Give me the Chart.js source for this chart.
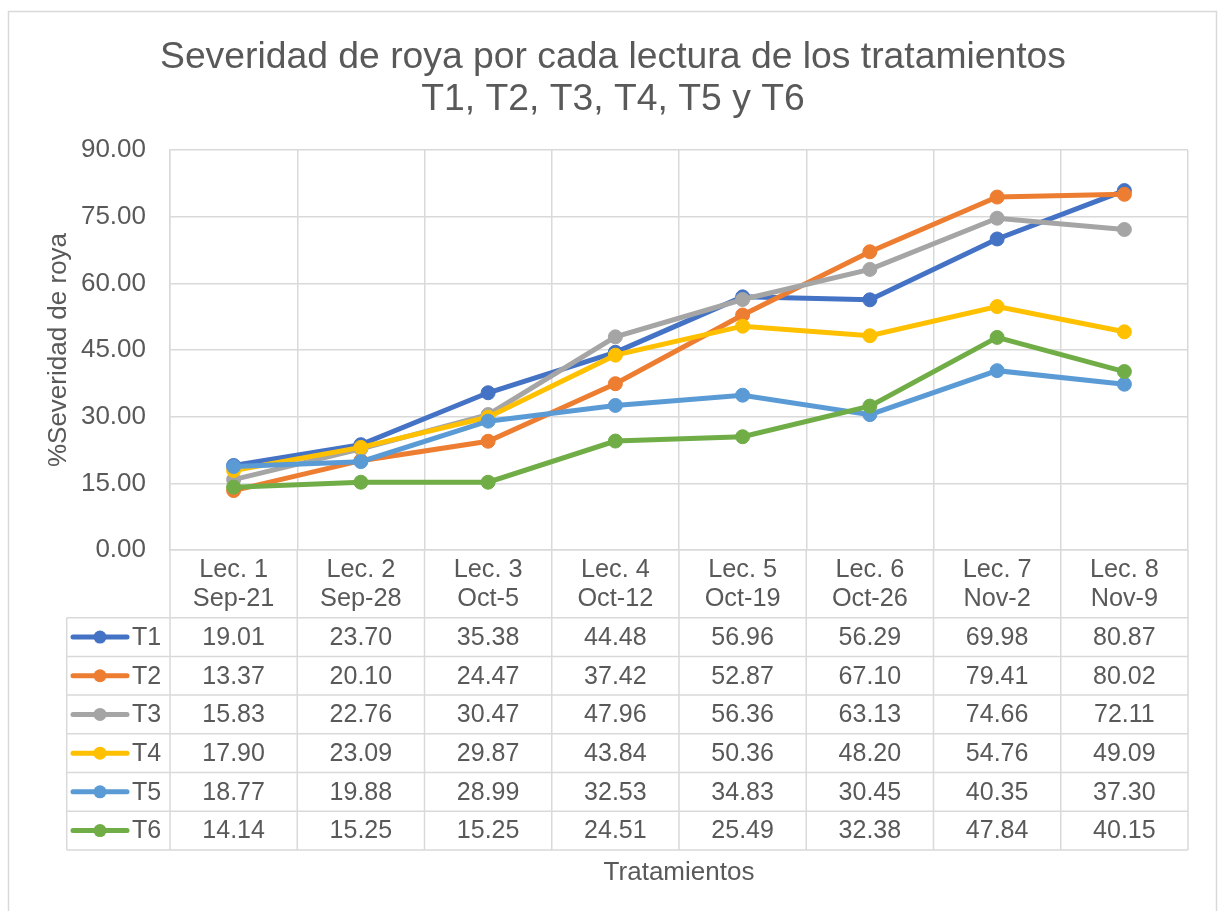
<!DOCTYPE html>
<html>
<head>
<meta charset="utf-8">
<script src="https://cdn.jsdelivr.net/npm/chart.js@4/dist/chart.umd.min.js"></script>
<style>
html,body{margin:0;padding:0;background:#ffffff;}
canvas{display:block;}
</style>
</head>
<body>
<canvas id="c" width="1220" height="911"></canvas>
<script>
// ---- data ----
const categories = [
  ['Lec. 1','Sep-21'], ['Lec. 2','Sep-28'], ['Lec. 3','Oct-5'], ['Lec. 4','Oct-12'],
  ['Lec. 5','Oct-19'], ['Lec. 6','Oct-26'], ['Lec. 7','Nov-2'], ['Lec. 8','Nov-9']
];
const seriesNames = ['T1','T2','T3','T4','T5','T6'];
const T1 = [19.01, 23.70, 35.38, 44.48, 56.96, 56.29, 69.98, 80.87];
const T2 = [13.37, 20.10, 24.47, 37.42, 52.87, 67.10, 79.41, 80.02];
const T3 = [15.83, 22.76, 30.47, 47.96, 56.36, 63.13, 74.66, 72.11];
const T4 = [17.90, 23.09, 29.87, 43.84, 50.36, 48.20, 54.76, 49.09];
const T5 = [18.77, 19.88, 28.99, 32.53, 34.83, 30.45, 40.35, 37.30];
const T6 = [14.14, 15.25, 15.25, 24.51, 25.49, 32.38, 47.84, 40.15];
const seriesValues = [T1, T2, T3, T4, T5, T6];
const seriesColors = ['#4472C4','#ED7D31','#A5A5A5','#FFC000','#5B9BD5','#70AD47'];
const yMin = 0, yMax = 90, yStep = 15;
const titleLines = ['Severidad de roya por cada lectura de los tratamientos', 'T1, T2, T3, T4, T5 y T6'];
const yTitle = '%Severidad de roya';
const xTitle = 'Tratamientos';

// ---- style ----
const FONT = "'Liberation Sans', Arial, sans-serif";
const TEXT = '#595959';
const GRID = '#d9d9d9';

const tablePlugin = {
  id: 'dataTable',
  beforeDraw(chart) {
    const ctx = chart.ctx;
    ctx.save();
    ctx.fillStyle = '#ffffff';
    ctx.fillRect(0, 0, chart.width, chart.height);
    ctx.strokeStyle = GRID;
    ctx.lineWidth = 1.5;
    ctx.strokeRect(8.5, 11.5, 1208, 910);
    ctx.restore();
  },
  afterDraw(chart) {
    const ctx = chart.ctx;
    const xs = chart.scales.x;
    const area = chart.chartArea;
    const tableTop = 617.7, rowH = 38.7, tableLeft = 66.7;
    const rows = seriesNames.length;
    const tableBottom = tableTop + rowH * rows;
    const n = categories.length;
    const bounds = [];
    for (let i = 0; i <= n; i++) {
      if (i === 0) bounds.push(area.left);
      else if (i === n) bounds.push(area.right);
      else bounds.push((xs.getPixelForTick(i - 1) + xs.getPixelForTick(i)) / 2);
    }
    ctx.save();
    ctx.strokeStyle = GRID;
    ctx.lineWidth = 1.5;
    ctx.beginPath();
    bounds.forEach(b => { ctx.moveTo(b, area.bottom); ctx.lineTo(b, tableBottom); });
    ctx.moveTo(tableLeft, tableTop); ctx.lineTo(tableLeft, tableBottom);
    for (let r = 0; r <= rows; r++) {
      const y = tableTop + r * rowH;
      ctx.moveTo(tableLeft, y); ctx.lineTo(area.right, y);
    }
    ctx.stroke();

    ctx.font = '25px ' + FONT;
    ctx.fillStyle = TEXT;
    ctx.textBaseline = 'middle';
    for (let r = 0; r < rows; r++) {
      const cy = tableTop + r * rowH + rowH / 2;
      // legend key
      ctx.strokeStyle = seriesColors[r];
      ctx.lineWidth = 5;
      ctx.lineCap = 'round';
      ctx.beginPath(); ctx.moveTo(73, cy); ctx.lineTo(127, cy); ctx.stroke();
      ctx.fillStyle = seriesColors[r];
      ctx.beginPath(); ctx.arc(100, cy, 6.5, 0, Math.PI * 2); ctx.fill();
      ctx.fillStyle = TEXT;
      ctx.textAlign = 'left';
      ctx.fillText(seriesNames[r], 132, cy + 1);
      ctx.textAlign = 'center';
      for (let c = 0; c < n; c++) {
        ctx.fillText(seriesValues[r][c].toFixed(2), xs.getPixelForTick(c), cy + 1);
      }
    }
    ctx.restore();
  }
};

const datasets = seriesNames.map((name, i) => ({
  label: name,
  data: seriesValues[i],
  borderColor: seriesColors[i],
  backgroundColor: seriesColors[i],
  borderWidth: 5,
  pointRadius: 7,
  pointBorderWidth: 1,
  pointBackgroundColor: seriesColors[i],
  pointBorderColor: seriesColors[i],
  tension: 0,
  fill: false,
  yAxisID: 'y',
  order: seriesNames.length - i
}));

new Chart(document.getElementById('c'), {
  type: 'line',
  data: { labels: categories, datasets },
  options: {
    responsive: false,
    animation: false,
    devicePixelRatio: 1,
    layout: { padding: { left: 6, right: 0, top: 0, bottom: 0 } },
    plugins: {
      legend: { display: false },
      tooltip: { enabled: false },
      title: {
        display: true,
        text: titleLines,
        color: TEXT,
        font: { family: FONT, size: 37.3, weight: 'normal', lineHeight: 42 / 37.3 },
        padding: { top: 36.5, bottom: 29.5 }
      }
    },
    scales: {
      x: {
        type: 'category',
        offset: true,
        grid: { display: true, offset: true, color: GRID, lineWidth: 1.5, drawTicks: false },
        border: { display: true, color: GRID, width: 1.5 },
        ticks: {
          color: TEXT, padding: 5.5, maxRotation: 0, autoSkip: false,
          font: { family: FONT, size: 25.3, lineHeight: 29 / 25.3 }
        },
        title: {
          display: true, text: xTitle, color: TEXT,
          font: { family: FONT, size: 26 },
          padding: { top: 0, bottom: 22.4 }
        },
        afterFit(scale) { scale.height = 361; }
      },
      y: {
        type: 'linear',
        position: 'left',
        min: yMin, max: yMax,
        grid: { color: GRID, lineWidth: 1.5, drawTicks: false },
        border: { display: true, color: GRID, width: 1.5 },
        ticks: {
          stepSize: yStep, color: TEXT, padding: 24,
          font: { family: FONT, size: 26 },
          callback: v => Number(v).toFixed(2)
        },
        title: {
          display: true, text: yTitle, color: TEXT,
          font: { family: FONT, size: 26 },
          padding: { top: 37, bottom: 0 }
        },
        afterFit(scale) { scale.width = 164; }
      },
      yRightSpace: {
        type: 'linear',
        position: 'right',
        display: true,
        min: yMin, max: yMax,
        grid: { display: false, drawOnChartArea: false },
        border: { display: false },
        ticks: { display: false },
        afterFit(scale) { scale.width = 32; }
      }
    }
  },
  plugins: [tablePlugin]
});
</script>
</body>
</html>
